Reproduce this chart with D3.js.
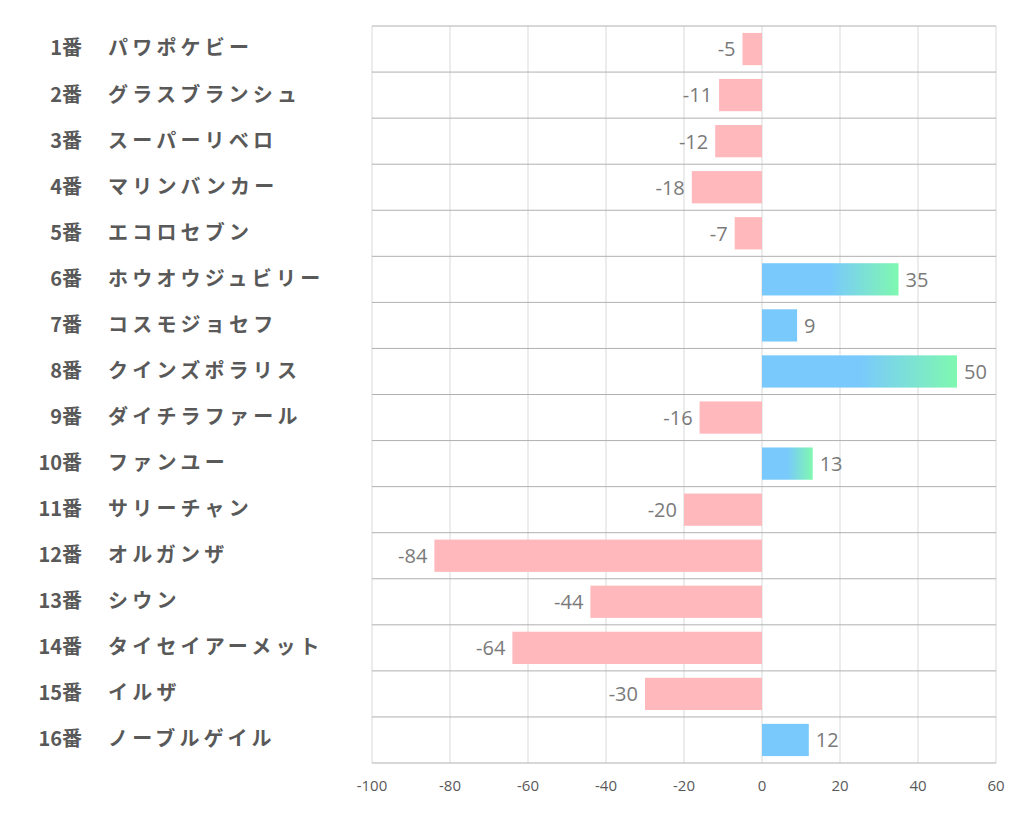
<!DOCTYPE html>
<html><head><meta charset="utf-8">
<script src="https://cdn.jsdelivr.net/npm/d3@7"></script>
<style>body{margin:0;background:#fff;} svg{display:block;}</style>
</head><body>
<svg id="c" width="1022" height="834"></svg>
<script>
const numbers = ["1番","2番","3番","4番","5番","6番","7番","8番","9番","10番","11番","12番","13番","14番","15番","16番"];
const names = ["パワポケビー","グラスブランシュ","スーパーリベロ","マリンバンカー","エコロセブン","ホウオウジュビリー","コスモジョセフ","クインズポラリス","ダイチラファール","ファンユー","サリーチャン","オルガンザ","シウン","タイセイアーメット","イルザ","ノーブルゲイル"];
const values = [-5,-11,-12,-18,-7,35,9,50,-16,13,-20,-84,-44,-64,-30,12];
const gradientRows = [false,false,false,false,false,true,false,true,false,true,false,false,false,false,false,false];
const ticks = [-100,-80,-60,-40,-20,0,20,40,60];

const svg = d3.select("#c");
const x = d3.scaleLinear().domain([-100,60]).range([372,996]);
const y = d3.scaleBand().domain(d3.range(values.length)).range([26,763]).paddingInner(0.3).paddingOuter(0.15);
const rowH = (763-26)/values.length;

const defs = svg.append("defs");
const g = defs.append("linearGradient").attr("id","pg").attr("x1","0").attr("x2","1").attr("y1","0").attr("y2","0");
g.append("stop").attr("offset","0.5").attr("stop-color","#79c9fc");
g.append("stop").attr("offset","1").attr("stop-color","#7ff8b0");

// vertical grid
svg.append("g").selectAll("line").data(ticks).join("line")
  .attr("x1",d=>x(d)).attr("x2",d=>x(d)).attr("y1",26).attr("y2",763)
  .attr("stroke","#d9d9d9").attr("stroke-width",1);
// horizontal row lines
svg.append("g").selectAll("line").data(d3.range(values.length+1)).join("line")
  .attr("x1",372).attr("x2",996).attr("y1",i=>26+i*rowH).attr("y2",i=>26+i*rowH)
  .attr("stroke","#b0b0b0").attr("stroke-width",1);

// bars
svg.append("g").selectAll("rect").data(values).join("rect")
  .attr("x",d=>x(Math.min(0,d))).attr("width",d=>Math.abs(x(d)-x(0)))
  .attr("y",(d,i)=>y(i)).attr("height",y.bandwidth())
  .attr("fill",(d,i)=>d<0?"#ffb8bc":(gradientRows[i]?"url(#pg)":"#79c9fc"));

// value labels
svg.append("g").selectAll("text").data(values).join("text")
  .attr("x",d=>d<0?x(d)-7:x(d)+7)
  .attr("y",(d,i)=>y(i)+y.bandwidth()/2+2)
  .attr("text-anchor",d=>d<0?"end":"start")
  .attr("dominant-baseline","middle")
  .attr("font-family","'Open Sans', sans-serif").attr("font-size",20)
  .attr("fill","#7a7a7a").text(d=>d);

// axis ticks labels
svg.append("g").selectAll("text").data(ticks).join("text")
  .attr("x",d=>x(d)).attr("y",791).attr("text-anchor","middle")
  .attr("font-family","'Open Sans', sans-serif").attr("font-size",15)
  .attr("fill","#595959").text(d=>d);

// row labels
const lab = svg.append("g");
lab.selectAll("text.num").data(numbers).join("text").attr("class","num")
  .attr("x",82).attr("y",(d,i)=>26+i*rowH+rowH/2+1).attr("text-anchor","end")
  .attr("dominant-baseline","middle")
  .attr("font-family","'Noto Sans CJK JP', sans-serif").attr("font-weight","bold").attr("font-size",20)
  .attr("fill","#595959").text(d=>d);
lab.selectAll("text.nm").data(names).join("text").attr("class","nm")
  .attr("x",108).attr("y",(d,i)=>26+i*rowH+rowH/2+1)
  .attr("dominant-baseline","middle")
  .attr("font-family","'Noto Sans CJK JP', sans-serif").attr("font-weight","bold").attr("font-size",20)
  .attr("letter-spacing",4.2)
  .attr("fill","#595959").text(d=>d);
</script>
</body></html>
